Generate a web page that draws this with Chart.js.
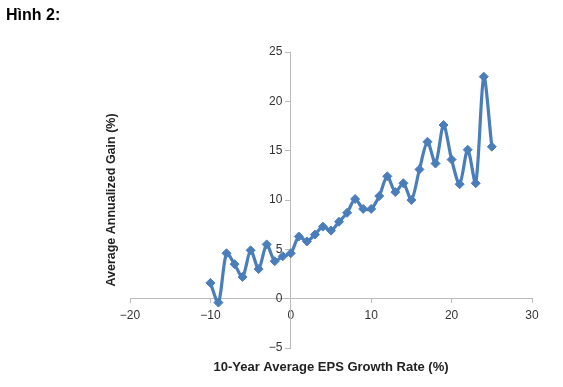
<!DOCTYPE html>
<html>
<head>
<meta charset="utf-8">
<script src="https://cdn.jsdelivr.net/npm/chart.js@4.4.1/dist/chart.umd.min.js"></script>
<style>
html,body{margin:0;padding:0;background:#fff;}
#wrap{width:563px;height:387px;position:relative;}
</style>
</head>
<body>
<div id="wrap"><canvas id="c" width="563" height="387"></canvas></div>
<script>
const figureLabel = "Hình 2:";
const xTitle = "10-Year Average EPS Growth Rate (%)";
const yTitle = "Average Annualized Gain (%)";
const epsGrowth = [-10,-9,-8,-7,-6,-5,-4,-3,-2,-1,0,1,2,3,4,5,6,7,8,9,10,11,12,13,14,15,16,17,18,19,20,21,22,23,24,25];
const annualGain = [1.6,-0.4,4.6,3.5,2.2,4.9,3.0,5.5,3.8,4.3,4.6,6.3,5.8,6.5,7.3,6.9,7.8,8.7,10.1,9.1,9.1,10.4,12.4,10.8,11.7,10.0,13.1,15.9,13.7,17.6,14.1,11.6,15.1,11.7,22.5,15.4];
const xRange = [-20, 30];
const yRange = [-5, 25];

const points = epsGrowth.map((x, i) => ({x: x, y: annualGain[i]}));
const fmt = v => String(v).replace('-', '\u2212');

const textPlugin = {
  id: 'texts',
  afterDraw(chart) {
    const ctx = chart.ctx;
    const a = chart.chartArea;
    ctx.save();
    ctx.fillStyle = '#000';
    ctx.font = 'bold 16px "Liberation Sans", Arial, sans-serif';
    ctx.textAlign = 'left';
    ctx.textBaseline = 'alphabetic';
    ctx.fillText(figureLabel, 6, 20);
    ctx.fillStyle = '#222';
    ctx.font = 'bold 13px "Liberation Sans", Arial, sans-serif';
    ctx.textAlign = 'center';
    ctx.textBaseline = 'middle';
    ctx.fillText(xTitle, (a.left + a.right) / 2, 367);
    ctx.font = 'bold 12.5px "Liberation Sans", Arial, sans-serif';
    ctx.translate(112, (a.top + a.bottom) / 2);
    ctx.rotate(-Math.PI / 2);
    ctx.fillText(yTitle, 0, 0);
    ctx.restore();
  }
};

new Chart(document.getElementById('c'), {
  type: 'line',
  data: {
    datasets: [{
      data: points,
      borderColor: '#4a7ebb',
      backgroundColor: '#4a7ebb',
      borderWidth: 3.2,
      tension: 0.28,
      pointStyle: 'rectRot',
      pointRadius: 4.5,
      pointBorderWidth: 1,
      fill: false
    }]
  },
  options: {
    responsive: false,
    animation: false,
    layout: {padding: {left: 130, right: 31, top: 52, bottom: 39}},
    plugins: {legend: {display: false}, tooltip: {enabled: false}},
    scales: {
      x: {
        type: 'linear',
        position: {y: 0},
        min: xRange[0], max: xRange[1],
        ticks: {stepSize: 10, color: '#333', font: {family: '"Liberation Sans", Arial, sans-serif', size: 12}, padding: 6, callback: v => fmt(v)},
        grid: {display: true, drawOnChartArea: false, drawTicks: true, tickLength: 4, color: '#bbb'},
        border: {display: true, color: '#bbb', width: 1}
      },
      y: {
        type: 'linear',
        position: {x: 0},
        min: yRange[0], max: yRange[1],
        ticks: {stepSize: 5, color: '#333', font: {family: '"Liberation Sans", Arial, sans-serif', size: 12}, padding: 3, callback: v => fmt(v) + '\u2002\u2009'},
        grid: {display: true, drawOnChartArea: false, drawTicks: true, tickLength: 5, color: '#bbb'},
        border: {display: true, color: '#bbb', width: 1}
      }
    }
  },
  plugins: [textPlugin]
});
</script>
</body>
</html>
